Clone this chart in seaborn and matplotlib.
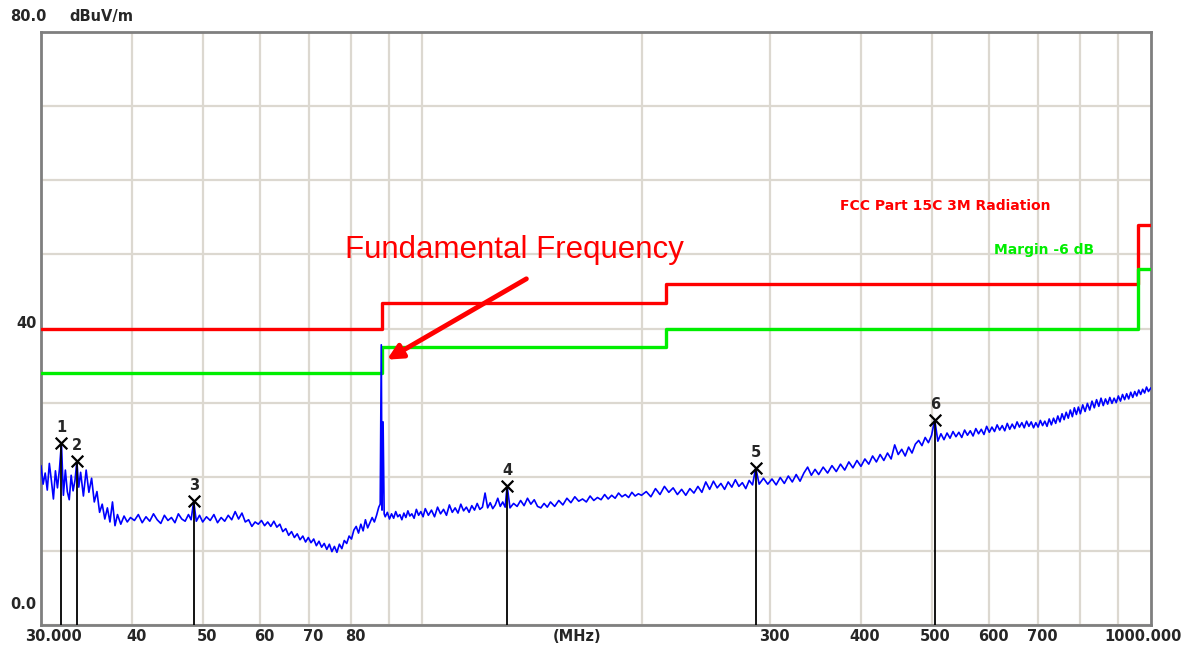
import numpy as np
import pandas as pd
import matplotlib
matplotlib.use("Agg")
import matplotlib.pyplot as plt
import matplotlib.transforms as mtrans
from matplotlib.ticker import NullLocator
import seaborn as sns

trace_freq = [
    30.0, 30.2, 30.4, 30.6, 30.8, 31.0, 31.2, 31.4, 31.6, 31.8, 32.0, 32.2, 32.4, 32.6, 32.8,
    33.0, 33.2, 33.4, 33.6, 33.8, 34.0, 34.3, 34.6, 34.9, 35.2, 35.5, 35.8, 36.1, 36.4, 36.7,
    37.0, 37.3, 37.6, 37.9, 38.2, 38.6, 39.0, 39.4, 39.8,
    40.3, 40.8, 41.3, 41.8, 42.3, 42.8, 43.3, 43.8, 44.3, 44.8, 45.3, 45.8, 46.3, 46.8, 47.3,
    47.8, 48.2, 48.6, 49.0, 49.5, 50.0, 50.6, 51.2, 51.8, 52.4, 53.0, 53.6, 54.2, 54.8, 55.4,
    56.0, 56.6, 57.2, 57.8, 58.4, 59.0, 59.6, 60.2, 60.8, 61.4, 62.0, 62.6, 63.2, 63.8, 64.4,
    65.0, 65.6, 66.2, 66.8, 67.4, 68.0, 68.6, 69.2, 69.8, 70.4, 71.0, 71.6, 72.2, 72.8, 73.4,
    74.0, 74.6, 75.2, 75.8, 76.4, 77.0, 77.6, 78.2, 78.8, 79.4, 80.0, 80.6, 81.2, 81.8, 82.4,
    83.0, 83.6, 84.2, 84.8, 85.4, 86.0, 86.6, 87.2, 87.6, 87.9, 88.1, 88.4, 88.7,
    89.0, 89.6, 90.2, 90.8, 91.4, 92.0, 92.6, 93.2, 93.8, 94.4, 95.0, 95.6, 96.2, 96.8, 97.5,
    98.2, 98.9, 99.6, 100.3, 101.0, 102, 103, 104, 105, 106, 107, 108, 109, 110, 111, 112,
    113, 114, 115, 116, 117, 118, 119, 120, 121, 122, 123, 124, 125, 126, 127, 128, 129, 130,
    130.8, 132, 133.5, 135, 136.5, 138, 139.5, 141, 142.5, 144, 145.5, 147, 148.5, 150, 152,
    154, 156, 158, 160, 162, 164, 166, 168, 170, 172, 174, 176, 178, 180, 182, 184, 186, 188,
    190, 192, 194, 196, 198, 200,
    203, 206, 209, 212, 215, 218, 221, 224, 227, 230, 233, 236, 239, 242, 245, 248, 251, 254,
    257, 260, 263, 266, 269, 272, 275, 278, 281, 284, 286.9, 290, 294, 298, 302, 306, 310,
    314, 318, 322, 326, 330, 334, 338, 342, 346, 350, 355, 360, 365, 370, 375, 380, 385, 390,
    395, 400, 405, 410, 415, 420, 425, 430, 435, 440, 445, 450, 455, 460, 465, 470, 475, 480,
    485, 490, 495, 500, 505, 510, 515, 520,
    525, 530, 535, 540, 545, 550, 555, 560, 565, 570, 575, 580, 585, 590, 595, 600, 605, 610,
    615, 620, 625, 630, 635, 640, 645, 650, 655, 660, 665, 670, 675, 680, 685, 690, 695, 700,
    705, 710, 715, 720, 725, 730, 735, 740, 745, 750, 755, 760, 765, 770, 775, 780, 785, 790,
    795, 800, 806, 812, 818, 824, 830, 836, 842, 848, 854, 860, 866, 872, 878, 884, 890, 896,
    902, 908, 914, 920, 926, 932, 938, 944, 950, 956, 962, 968, 974, 980, 986, 992, 1000,
]
trace_level = [
    21.5, 19.0, 20.5, 18.2, 21.8, 19.5, 17.0, 20.8, 18.5, 21.0, 24.6, 17.5, 20.9, 18.0, 16.9,
    20.2, 18.1, 19.5, 22.1, 18.6, 20.6, 17.4, 20.9, 17.9, 19.8, 16.6, 18.0, 15.2, 16.3, 14.3,
    15.8, 13.9, 16.6, 13.4, 14.9, 13.6, 14.7, 13.9, 14.5,
    14.1, 14.9, 13.8, 14.6, 14.0, 15.0, 14.2, 13.7, 14.8, 14.1, 14.5, 13.8, 15.0, 14.3, 14.0,
    14.9, 14.2, 16.7, 14.0, 14.8, 13.9, 14.6, 14.1, 14.9, 13.8, 14.5, 14.0, 14.8, 14.2, 15.3,
    14.3, 15.1, 13.9, 14.2, 13.3, 13.9, 13.6, 14.1, 13.4, 13.9, 13.3, 14.0, 13.2, 13.6, 12.6,
    13.0, 12.1, 12.6, 11.8, 12.3, 11.5, 12.0, 11.2, 11.8, 11.1, 11.6, 10.7, 11.3, 10.5, 11.0,
    10.2, 10.9, 9.9, 10.6, 9.8, 10.9, 10.3, 11.4, 11.0, 12.0, 11.6, 12.8, 13.3, 12.4, 13.6,
    12.7, 14.2, 13.1, 13.8, 14.5, 13.9, 14.8, 15.9, 16.3, 37.8, 15.5, 27.4, 15.0,
    14.6, 15.2, 14.3, 15.0, 14.4, 15.3, 14.6, 14.9, 14.2, 15.1, 14.5, 15.4, 14.7, 15.0, 14.4,
    15.6, 14.8, 15.3, 14.6, 15.7, 14.8, 15.5, 14.6, 15.9, 15.0, 15.6, 14.8, 16.2, 15.2, 15.8,
    15.1, 16.3, 15.4, 15.9, 15.2, 16.1, 15.5, 16.4, 15.6, 15.9, 17.8, 15.8, 16.5, 15.7, 16.2,
    17.1, 16.0, 16.6, 15.9,
    18.8, 15.8, 16.4, 16.0, 16.8, 16.1, 17.1, 16.3, 16.9, 16.0, 15.8, 16.4, 15.9, 16.6, 16.0,
    16.8, 16.2, 17.1, 16.5, 17.3, 16.7, 17.0, 16.6, 17.4, 16.8, 17.2, 16.9, 17.6, 17.0, 17.5,
    17.1, 17.8, 17.3, 17.6, 17.2, 17.9, 17.4, 17.7, 17.5,
    18.0, 17.3, 18.4, 17.6, 18.7, 17.9, 18.5, 17.6, 18.3, 17.5, 18.4, 17.8, 18.7, 17.9, 19.3,
    18.3, 19.4, 18.5, 19.1, 18.3, 19.3, 18.6, 19.6, 18.7, 19.2, 18.4, 19.5, 18.9, 21.2, 19.0,
    19.8, 19.0, 19.7, 18.9, 19.9, 19.1, 20.1, 19.3, 20.3, 19.4, 20.5, 21.3, 20.2, 21.0, 20.3,
    21.3, 20.5, 21.5, 20.7, 21.7, 20.9, 22.0, 21.2, 22.2, 21.4, 22.4, 21.7, 22.8, 22.0, 23.0,
    22.2, 23.2, 22.4, 24.3, 23.0, 23.7, 22.8, 24.0, 23.2, 24.4, 24.9, 24.2, 25.3, 24.6, 25.6,
    27.7, 24.8, 25.8, 25.0,
    25.9, 25.2, 26.1, 25.4, 26.0, 25.3, 26.3, 25.6, 26.2, 25.5, 26.5, 25.8, 26.4, 25.7, 26.8,
    26.0, 26.7, 26.1, 27.0, 26.3, 26.9, 26.2, 27.2, 26.4, 27.1, 26.5, 27.4, 26.7, 27.3, 26.6,
    27.5, 26.8, 27.4, 26.6, 27.3, 26.7, 27.6, 26.9, 27.5, 26.8, 27.8, 27.0, 27.9, 27.2, 28.2,
    27.4, 28.5, 27.7, 28.7, 27.9, 29.0, 28.1, 29.3, 28.4, 29.4, 28.5, 29.7, 28.8, 29.9, 29.0,
    30.2, 29.3, 30.4, 29.5, 30.6, 29.6, 30.5, 29.8, 30.7, 29.9, 30.6, 30.0, 30.9, 30.2, 31.1,
    30.4, 31.2, 30.5, 31.4, 30.7, 31.5, 30.9, 31.7, 31.1, 31.8, 31.3, 32.1, 31.5, 32.0,
]

# FCC Part 15C limit and -6 dB margin (step lines)
limit_freq = [30, 88, 216, 960, 1000]
limit_level = [40, 43.5, 46, 54, 54]
margin_level = [34, 37.5, 40, 48, 48]

# Peak markers
marker_id = ["1", "2", "3", "4", "5", "6"]
marker_freq = [32.0, 33.6, 48.6, 130.8, 286.9, 505.0]
marker_level = [24.6, 22.1, 16.7, 18.8, 21.2, 27.7]

# Axis labels
grid_freq = [40, 50, 60, 70, 80, 90, 100, 200, 300, 400, 500, 600, 700, 800, 900]
xtick_freq = [30, 40, 50, 60, 70, 80, 300, 400, 500, 600, 700, 1000]
xtick_text = ["30.000", "40", "50", "60", "70", "80", "300", "400", "500", "600", "700", "1000.000"]

sns.set_style("white")

fig = plt.figure(figsize=(11.94, 6.5), dpi=100)
ax = fig.add_axes([41 / 1194, 25 / 650, 1110 / 1194, 593 / 650])
ax.set_xscale("log")

df = pd.DataFrame({"freq": trace_freq, "level": trace_level})
lim = pd.DataFrame({"freq": limit_freq, "limit": limit_level, "margin": margin_level})

sns.lineplot(data=lim, x="freq", y="limit", color="#ff0000", lw=2.4,
             drawstyle="steps-post", ax=ax, zorder=3)
sns.lineplot(data=lim, x="freq", y="margin", color="#00ee00", lw=2.4,
             drawstyle="steps-post", ax=ax, zorder=3)
sns.lineplot(data=df, x="freq", y="level", color="#0000ff", lw=1.2, ax=ax, zorder=4)

# marker stems, crosses and numbers
ax.vlines(marker_freq, 0, marker_level, color="black", lw=1.3, zorder=5)
ax.scatter(marker_freq, marker_level, marker="x", s=70, color="black", lw=1.6, zorder=6)
for mid, f, lv in zip(marker_id, marker_freq, marker_level):
    ax.annotate(mid, (f, lv), xytext=(0, 11), textcoords="offset points",
                ha="center", va="center", fontsize=10.5, fontweight="bold", zorder=6)

ax.set_xlim(30, 1000)
ax.set_ylim(0, 80)
ax.xaxis.set_minor_locator(NullLocator())
ax.set_xticks(grid_freq)
ax.set_xticklabels([])
ax.set_yticks(range(0, 81, 10))
ax.set_yticklabels([])
ax.tick_params(length=0)
ax.grid(True, color="#dcd8d0", lw=1.6)
ax.set_axisbelow(True)
ax.set_xlabel("")
ax.set_ylabel("")
for s in ax.spines.values():
    s.set_color("#7f7f7f")
    s.set_linewidth(2)

# x labels
for f, t in zip(xtick_freq, xtick_text):
    dx = 4
    if t == "30.000":
        dx = 12
    if t == "1000.000":
        dx = -8
    tr = mtrans.offset_copy(ax.get_xaxis_transform(), fig=fig, x=dx, y=0, units="dots")
    ax.text(f, -0.02, t, transform=tr, ha="center", va="center",
            fontsize=10.5, fontweight="bold")
ax.text(163, -0.02, "(MHz)", transform=ax.get_xaxis_transform(), ha="center",
        va="center", fontsize=10.5, fontweight="bold")

# y labels
ax.text(-0.028, 1.026, "80.0", transform=ax.transAxes, ha="left", va="center",
        fontsize=10.5, fontweight="bold")
ax.text(0.026, 1.026, "dBuV/m", transform=ax.transAxes, ha="left", va="center",
        fontsize=10.5, fontweight="bold")
ax.text(-0.004, 40.7, "40", transform=ax.get_yaxis_transform(), ha="right",
        va="center", fontsize=10.5, fontweight="bold")
ax.text(-0.004, 2.7, "0.0", transform=ax.get_yaxis_transform(), ha="right",
        va="center", fontsize=10.5, fontweight="bold")

# legend-like labels
ax.text(0.720, 0.707, "FCC Part 15C 3M Radiation", transform=ax.transAxes,
        color="#ff0000", fontsize=10, fontweight="bold", ha="left", va="center")
ax.text(0.859, 0.632, "Margin -6 dB", transform=ax.transAxes,
        color="#00ee00", fontsize=10, fontweight="bold", ha="left", va="center")

# annotation
ax.text(134, 50.6, "Fundamental Frequency", color="#ff0000", fontsize=22.5,
        family="Liberation Sans", ha="center", va="center")
ax.annotate("", xy=(89.5, 35.8), xytext=(139, 46.7),
            arrowprops=dict(arrowstyle="-|>,head_length=0.9,head_width=0.45",
                            color="#ff0000", lw=3.5, shrinkA=0, shrinkB=0), zorder=7)

plt.savefig("out.png", dpi=100)
